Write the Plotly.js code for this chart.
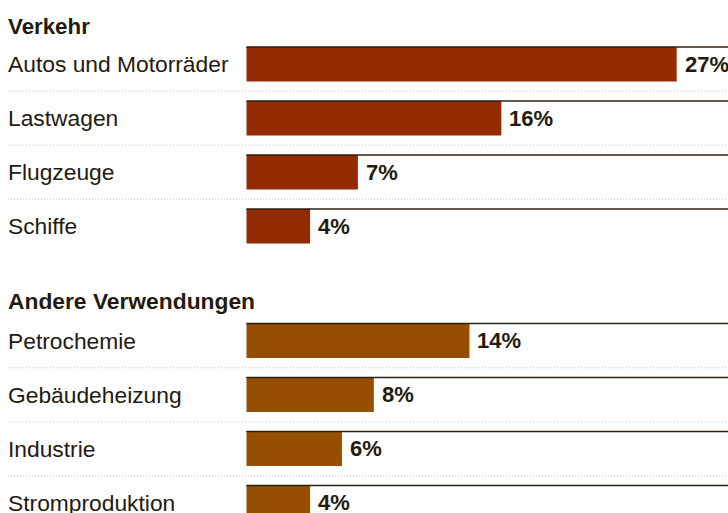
<!DOCTYPE html>
<html>
<head>
<meta charset="utf-8">
<script src="https://cdn.plot.ly/plotly-3.0.1.min.js"></script>
<style>
html,body{margin:0;padding:0;background:#fff;}
#chart{width:728px;height:513px;}
</style>
</head>
<body>
<div id="chart"></div>
<script>
const groupTitles = ["Verkehr", "Andere Verwendungen"];
const transportCategories = ["Autos und Motorräder", "Lastwagen", "Flugzeuge", "Schiffe"];
const transportValues = [27, 16, 7, 4];
const otherCategories = ["Petrochemie", "Gebäudeheizung", "Industrie", "Stromproduktion"];
const otherValues = [14, 8, 6, 4];

const W = 728, H = 513;
const FONT = "Liberation Sans, Arial, Helvetica, sans-serif";
const TEXT = "#231a10";
const colors = ["#922b00", "#964e00"];
const BW = 0.64;

const groups = [
  {cats: transportCategories, vals: transportValues, y: "y", color: colors[0]},
  {cats: otherCategories, vals: otherValues, y: "y2", color: colors[1]}
];

const traces = groups.map(g => ({
  type: "bar", orientation: "h",
  x: g.vals, y: g.cats, xaxis: "x", yaxis: g.y,
  width: BW, marker: {color: g.color, line: {width: 0}},
  hoverinfo: "skip", showlegend: false
}));

const shapes = [], annotations = [];
groups.forEach(g => {
  g.cats.forEach((c, i) => {
    shapes.push({type: "line", xref: "x domain", x0: 0, x1: 1, yref: g.y, y0: i - BW/2, y1: i - BW/2,
      line: {color: "#2b2015", width: 1.5}});
    if (i < g.cats.length - 1) {
      shapes.push({type: "line", xref: "paper", x0: 8/W, x1: 1, yref: g.y, y0: i + 0.5, y1: i + 0.5,
        line: {color: "#c4c4c4", width: 1, dash: "1px,2px"}});
    }
    annotations.push({xref: "paper", x: 6/W, xanchor: "left", yref: g.y, y: c, yanchor: "middle",
      text: c, showarrow: false, font: {family: FONT, size: 22.8, color: TEXT}});
    annotations.push({xref: "x", x: g.vals[i], xanchor: "left", xshift: 6, yref: g.y, y: c, yanchor: "middle",
      text: g.vals[i] + "%", showarrow: false, font: {family: FONT, size: 22, color: TEXT, weight: "bold"}});
  });
});
annotations.push({xref: "paper", x: 6/W, xanchor: "left", yref: "paper", y: 1 - 26/H, yanchor: "middle",
  text: groupTitles[0], showarrow: false, font: {family: FONT, size: 22.3, color: TEXT, weight: "bold"}});
annotations.push({xref: "paper", x: 6/W, xanchor: "left", yref: "paper", y: 1 - 301/H, yanchor: "middle",
  text: groupTitles[1], showarrow: false, font: {family: FONT, size: 22.8, color: TEXT, weight: "bold"}});

const layout = {
  width: W, height: H,
  margin: {l: 0, r: 0, t: 0, b: 0, pad: 0},
  paper_bgcolor: "#fff", plot_bgcolor: "rgba(0,0,0,0)",
  font: {family: FONT, color: TEXT},
  xaxis: {domain: [246.3/W, 1], range: [0, (W - 246.3)/15.94], visible: false, fixedrange: true},
  yaxis: {type: "category", domain: [1 - 253.2/H, 1 - 37.2/H], range: [3.5, -0.5], visible: false, anchor: "x",
    categoryorder: "array", categoryarray: transportCategories},
  yaxis2: {type: "category", domain: [0, 1 - 313.8/H], range: [3.5 - (529.8 - H)/54, -0.5], visible: false, anchor: "x",
    categoryorder: "array", categoryarray: otherCategories},
  shapes: shapes, annotations: annotations, showlegend: false
};

Plotly.newPlot("chart", traces, layout, {displayModeBar: false, staticPlot: true});
</script>
</body>
</html>
